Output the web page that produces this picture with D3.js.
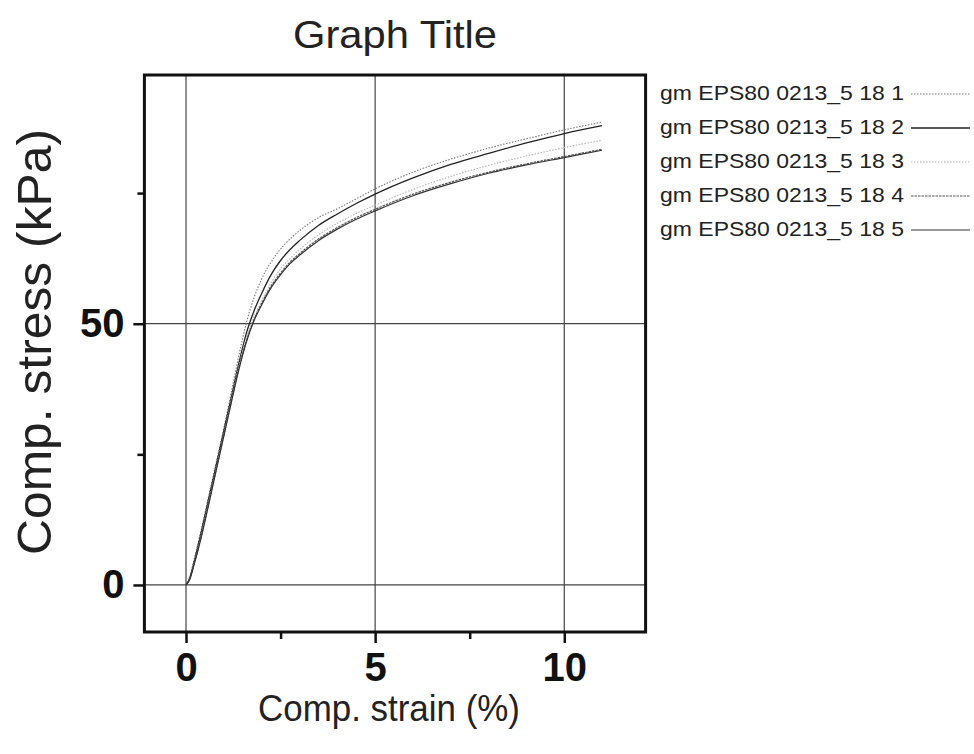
<!DOCTYPE html>
<html><head><meta charset="utf-8">
<script src="https://cdn.jsdelivr.net/npm/d3@7"></script>
<style>html,body{margin:0;padding:0;background:#fff;}svg{display:block;}</style>
</head><body>
<script>
const strain = [0,0.1,0.2,0.4,0.6,0.8,1.0,1.2,1.4,1.6,1.8,2.0,2.25,2.5,2.75,3.0,3.5,4.0,4.5,5,6,7,8,9,10,11];
const stress1 = [0,1.5,4.5,10.5,17,23.5,30,37,44,50.3,55.0,58.6,61.8,64.3,66.2,67.8,70.3,72.0,73.9,75.8,79,81.5,83.6,85.4,87.1,88.6];
const stress2 = [0,1.3,4,10,16.5,23,29.5,36,42.5,48.3,52.5,55.8,59.4,62.1,64.2,65.9,68.8,71,73,74.8,77.9,80.5,82.6,84.6,86.4,87.9];
const stress3 = [0,1.2,3.8,9.5,16,22.5,29,35.5,42,47.3,51.3,54.4,57.8,60.5,62.5,64.2,67.0,69.2,71.1,72.7,75.7,78.2,80.3,82.1,83.7,85.1];
const stress4 = [0,1.2,3.7,9.3,15.7,22.2,28.7,35.2,41.5,46.8,50.8,53.9,57.2,59.7,61.8,63.4,66.2,68.4,70.3,71.9,74.8,77.1,79.0,80.6,82.0,83.4];
const stress5 = [0,1.1,3.5,9.0,15.4,22,28.5,35,41.3,46.6,50.6,53.6,56.9,59.4,61.5,63.1,65.9,68.1,70.0,71.6,74.5,76.8,78.8,80.4,81.8,83.2];
const seriesNames = ["gm EPS80 0213_5 18 1","gm EPS80 0213_5 18 2","gm EPS80 0213_5 18 3","gm EPS80 0213_5 18 4","gm EPS80 0213_5 18 5"];
const xMajor = [0,5,10];
const xMinor = [2.5,7.5];
const yMajor = [0,50];
const yMinor = [25,75];
const title = "Graph Title";
const xTitle = "Comp. strain (%)";
const yTitle = "Comp. stress (kPa)";

const allSeries = [stress1,stress2,stress3,stress4,stress5];
const styles = [
  {stroke:"#777", width:1.1, dash:"1.5,1.5"},
  {stroke:"#222", width:1.3, dash:null},
  {stroke:"#b5b5b5", width:1.1, dash:"1.5,1.5"},
  {stroke:"#555", width:1.2, dash:"2.5,1"},
  {stroke:"#333", width:1.2, dash:null}
];

const W=974,H=754;
const svg = d3.select("body").append("svg").attr("width",W).attr("height",H);
svg.append("rect").attr("width",W).attr("height",H).attr("fill","#fff");

const x = d3.scaleLinear().domain([-1.1,12.15]).range([144.4,645.6]);
const y = d3.scaleLinear().domain([-9,97.6]).range([632,75]);
const font = "'Liberation Sans', Arial, sans-serif";

// grid
const g = svg.append("g");
g.selectAll(".vg").data(xMajor).enter().append("line")
  .attr("x1",d=>x(d)).attr("x2",d=>x(d)).attr("y1",y.range()[0]).attr("y2",y.range()[1])
  .attr("stroke","#444").attr("stroke-width",1.2);
g.selectAll(".hg").data(yMajor).enter().append("line")
  .attr("y1",d=>y(d)).attr("y2",d=>y(d)).attr("x1",x.range()[0]).attr("x2",x.range()[1])
  .attr("stroke","#444").attr("stroke-width",1.2);

// curves
const line = d3.line().x((d,i)=>x(strain[i])).y(d=>y(d)).curve(d3.curveMonotoneX);
allSeries.forEach((s,k)=>{
  const p = svg.append("path").datum(s).attr("d",line).attr("fill","none")
    .attr("stroke",styles[k].stroke).attr("stroke-width",styles[k].width);
  if(styles[k].dash) p.attr("stroke-dasharray",styles[k].dash);
});

// frame
svg.append("rect").attr("x",x.range()[0]).attr("y",y.range()[1])
  .attr("width",x.range()[1]-x.range()[0]).attr("height",y.range()[0]-y.range()[1])
  .attr("fill","none").attr("stroke","#111").attr("stroke-width",3);

// axes
const xAxis = svg.append("g").attr("transform",`translate(0,${y.range()[0]})`)
  .call(d3.axisBottom(x).tickValues(xMajor).tickSize(11).tickSizeOuter(0).tickPadding(10).tickFormat(d3.format("d")));
const xAxisMinor = svg.append("g").attr("transform",`translate(0,${y.range()[0]})`)
  .call(d3.axisBottom(x).tickValues(xMinor).tickSize(7).tickSizeOuter(0).tickFormat(""));
const yAxis = svg.append("g").attr("transform",`translate(${x.range()[0]},0)`)
  .call(d3.axisLeft(y).tickValues(yMajor).tickSize(11).tickSizeOuter(0).tickPadding(9).tickFormat(d3.format("d")));
const yAxisMinor = svg.append("g").attr("transform",`translate(${x.range()[0]},0)`)
  .call(d3.axisLeft(y).tickValues(yMinor).tickSize(7).tickSizeOuter(0).tickFormat(""));
[xAxis,xAxisMinor,yAxis,yAxisMinor].forEach(a=>{
  a.select(".domain").remove();
  a.selectAll(".tick line").attr("stroke","#111").attr("stroke-width",2.5);
  a.selectAll("text").attr("font-family",font).attr("font-size",40).attr("font-weight","bold").attr("fill","#111");
});

// titles
svg.append("text").attr("x",395).attr("y",48).attr("text-anchor","middle")
  .attr("font-family",font).attr("font-size",39).attr("fill","#222")
  .attr("textLength",204).attr("lengthAdjust","spacingAndGlyphs").text(title);
svg.append("text").attr("x",389).attr("y",721).attr("text-anchor","middle")
  .attr("font-family",font).attr("font-size",36).attr("fill","#222")
  .attr("textLength",262).attr("lengthAdjust","spacingAndGlyphs").text(xTitle);
svg.append("text").attr("transform","translate(51,342) rotate(-90)").attr("text-anchor","middle")
  .attr("font-family",font).attr("font-size",49).attr("fill","#222")
  .attr("textLength",426).attr("lengthAdjust","spacingAndGlyphs").text(yTitle);

// legend
const leg = svg.append("g");
seriesNames.forEach((n,k)=>{
  const cy = 93 + k*34;
  leg.append("text").attr("x",660).attr("y",cy+7).attr("font-family",font).attr("font-size",21)
    .attr("fill","#222").attr("textLength",244).attr("lengthAdjust","spacingAndGlyphs").text(n);
  const l = leg.append("line").attr("x1",911).attr("x2",970).attr("y1",cy+1).attr("y2",cy+1)
    .attr("stroke",styles[k].stroke).attr("stroke-width",styles[k].width);
  if(styles[k].dash) l.attr("stroke-dasharray",styles[k].dash);
});
</script>
</body></html>
